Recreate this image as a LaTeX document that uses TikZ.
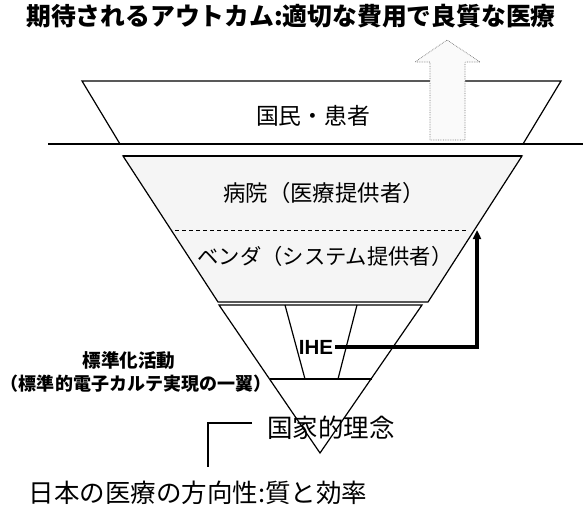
\documentclass[tikz,border=0pt]{standalone}
\usepackage{fontspec}
\newfontfamily\jp{Noto Sans CJK JP}
\newfontfamily\lat{Liberation Sans}
\usetikzlibrary{arrows.meta}
\begin{document}
\begin{tikzpicture}[x=1pt,y=-1pt,line join=miter,
  edge/.style={draw=black,line width=1.2pt},
  jptext/.style={inner sep=0pt,font=\jp\fontsize{#1}{#1}\selectfont},
  jpbold/.style={inner sep=0pt,font=\jp\bfseries\fontsize{#1}{#1}\selectfont},
  stipple/.style={fill=black!4}]
\useasboundingbox (0,0) rectangle (583,506);

% title
\node[jpbold=24.8] (title) at (291,16) {期待されるアウトカム:適切な費用で良質な医療};

% top trapezoid
\draw[edge] (82,81) -- (561,81) -- (523,144) -- (120,144) -- cycle;
\draw[line width=1.4pt] (48,144) -- (583,144);
\node[jptext=22.8] (people) at (313,116) {国民・患者};

% outcome arrow
\draw[fill=black!2,draw=black!55,line width=0.7pt,densely dotted]
  (430,140) -- (430,62) -- (415,62) -- (447,40) -- (480,62) -- (465,62) -- (465,140) -- cycle;

% middle trapezoid
\draw[edge,stipple] (123,156) -- (522,156) -- (428,302) -- (218,302) -- cycle;
\draw[line width=1.8pt] (123,156) -- (522,156);
\draw[line width=0.9pt,dash pattern=on 4pt off 3pt] (175,230) -- (467,230);
\node[jptext=22.4] (hosp) at (324,193) {病院（医療提供者）};
\node[jptext=21.3] (vendor) at (325,256) {ベンダ（システム提供者）};

% lower triangle
\draw[edge] (219,305) -- (422,305) -- (320,453) -- cycle;
\draw[edge] (285,305) -- (305,379);
\draw[edge] (357,305) -- (338,379);
\draw[edge] (270,379) -- (372,379);
\node[inner sep=0pt,font=\lat\bfseries\fontsize{20.5}{20.5}\selectfont] (ihe) at (316,347) {IHE};

% IHE connector
\coordinate (bend) at (477,347);
\coordinate (tip) at (477,230);
\draw[line width=3.2pt,-{Triangle[length=9pt,width=8pt]}] (ihe.east) ++(2,0) -- (bend) -- (tip);

% left labels
\node[jpbold=18.6] (std) at (129,360) {標準化活動};
\node[jpbold=18] (stdsub) at (136,384) {（標準的電子カルテ実現の一翼）};

% national ideal
\node[jptext=25.5] (ideal) at (331,428) {国家的理念};
\coordinate (brk) at (208,423);
\draw[line width=1.2pt] (252,423) -- (brk) -- (208,467);

% bottom text
\node[jptext=25.5] (dir) at (198,493) {日本の医療の方向性:質と効率};
\end{tikzpicture}
\end{document}
